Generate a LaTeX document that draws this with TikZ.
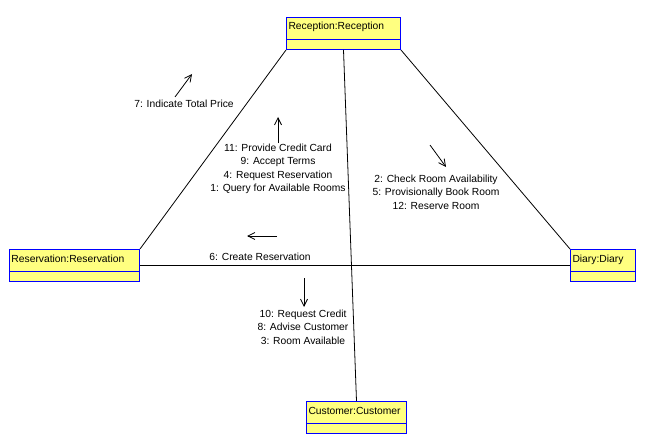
\documentclass[tikz,border=0pt]{standalone}
\usepackage{fontspec}
\setmainfont{Liberation Sans}
\usetikzlibrary{arrows.meta}
\definecolor{objfill}{HTML}{FFFF80}
\definecolor{objline}{HTML}{0000FF}

\begin{document}
\begin{tikzpicture}[
    x=1pt, y=-1pt,
    every node/.style={font=\fontsize{10.3}{13.5}\selectfont},
    obj/.style={
      draw=objline, line width=1pt, fill=objfill,
      anchor=north west, align=left,
      inner xsep=2pt, inner ysep=0pt,
      text height=8pt, text depth=15pt, minimum height=32pt,
      path picture={\draw[objline, line width=1pt]
        ([yshift=10pt]path picture bounding box.south west) --
        ([yshift=10pt]path picture bounding box.south east);},
    },
    lnk/.style={draw=black, line width=0.8pt},
    msg/.style={-{Straight Barb[length=7pt,width=7pt]}, line width=0.8pt},
    lbl/.style={align=center},
  ]
  \useasboundingbox (0,0) rectangle (646,444);

  \node[obj, text width=110pt] (rec)  at (286,17)  {Reception:Reception};
  \node[obj, text width=126pt] (res)  at (9,249)   {Reservation:Reservation};
  \node[obj, text width=61pt]  (dia)  at (570,249) {Diary:Diary};
  \node[obj, text width=96pt]  (cust) at (306,401) {Customer:Customer};

  \draw[lnk] (rec.south west) -- (res.north east);
  \draw[lnk] (rec.south east) -- (dia.north west);
  \draw[lnk] (rec.south) -- (cust.north);
  \draw[lnk] (res.east) -- (dia.west);

  \node[lbl] (m7)  at (184,104) {7: Indicate Total Price};
  \node[lbl] (m11) at (278,169) {11: Provide Credit Card\\9: Accept Terms\\4: Request Reservation\\1: Query for Available Rooms};
  \node[lbl] (m2)  at (436,192) {2: Check Room Availability\\5: Provisionally Book Room\\12: Reserve Room};
  \node[lbl] (m6)  at (260,257) {6: Create Reservation};
  \node[lbl] (m10) at (303,327) {10: Request Credit\\8: Advise Customer\\3: Room Available};

  \coordinate (a7s)  at (175,97);  \coordinate (a7e)  at (192,74);
  \coordinate (a11s) at (278,143); \coordinate (a11e) at (278,117);
  \coordinate (a2s)  at (430,145); \coordinate (a2e)  at (446,167);
  \coordinate (a6s)  at (277,236); \coordinate (a6e)  at (247,236);
  \coordinate (a10s) at (304,278); \coordinate (a10e) at (304,307);

  \draw[msg] (a7s) -- (a7e);
  \draw[msg] (a11s) -- (a11e);
  \draw[msg] (a2s) -- (a2e);
  \draw[msg] (a6s) -- (a6e);
  \draw[msg] (a10s) -- (a10e);
\end{tikzpicture}
\end{document}
